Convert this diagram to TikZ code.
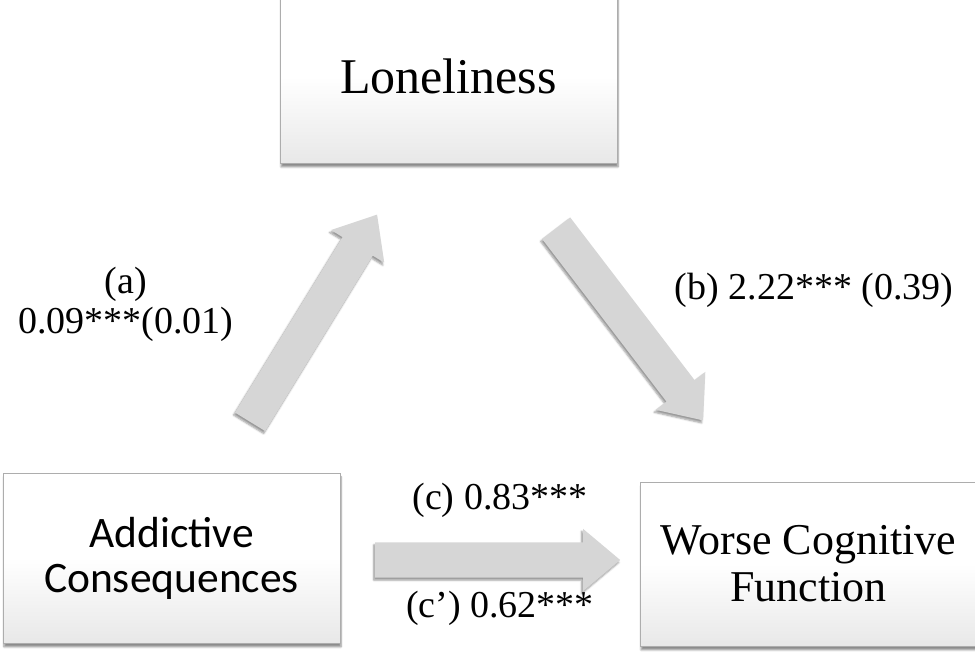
\documentclass[tikz,border=0pt]{standalone}
\usepackage{fontspec}
\setmainfont{Liberation Serif}
\newfontfamily\carlito{Carlito}
\usetikzlibrary{shapes.arrows,shadows.blur}
\begin{document}
\begin{tikzpicture}[x=1pt,y=1pt,
  box/.style={draw=black!32, line width=0.8pt, top color=white, bottom color=black!9, middle color=white,
    minimum width=337pt, inner sep=0pt, align=center,
    blur shadow={shadow xshift=1pt, shadow yshift=-4pt, shadow blur steps=6, shadow opacity=45}},
  blockarrow/.style={single arrow, draw=none, fill=black!16, minimum width=62pt, anchor=tail,
    single arrow head extend=13.5pt, single arrow tip angle=80, inner xsep=0pt, inner ysep=17.5pt,
    blur shadow={shadow xshift=-1.5pt, shadow yshift=-2.5pt, shadow blur steps=5, shadow opacity=40}},
  lbl/.style={font=\fontsize{38}{40}\selectfont, align=center, inner sep=0pt}]
\useasboundingbox (0,0) rectangle (975,652);
% boxes
\node[box, minimum height=173pt, font=\fontsize{50}{52}\selectfont] (lone) at (448.5,575.5) {Loneliness};
\node[box, minimum height=170pt, font=\carlito\fontsize{43.5}{45}\selectfont] (addict) at (171.5,94) {Addictive\\Consequences};
\node[box, minimum height=164pt, font=\fontsize{44}{47}\selectfont] (worse) at (808.5,88) {Worse Cognitive\\Function};
% block arrows (placed by their tails)
\coordinate (tailA) at (250,230);
\coordinate (tailB) at (556,424);
\coordinate (tailC) at (375,92);
\node[blockarrow, minimum height=243pt, rotate=58.5] (arrA) at (tailA) {};
\node[blockarrow, minimum height=242pt, rotate=-52.6] (arrB) at (tailB) {};
\node[blockarrow, minimum height=245pt] (arrC) at (tailC) {};
% labels
\node[lbl] (labA) at (126,348) {(a)\\0.09***(0.01)};
\node[lbl] (labB) at (814,362) {(b) 2.22*** (0.39)};
\node[lbl] (labC) at (500,152) {(c) 0.83***};
\node[lbl] (labCp) at (500,44) {(c’) 0.62***};
\end{tikzpicture}
\end{document}
